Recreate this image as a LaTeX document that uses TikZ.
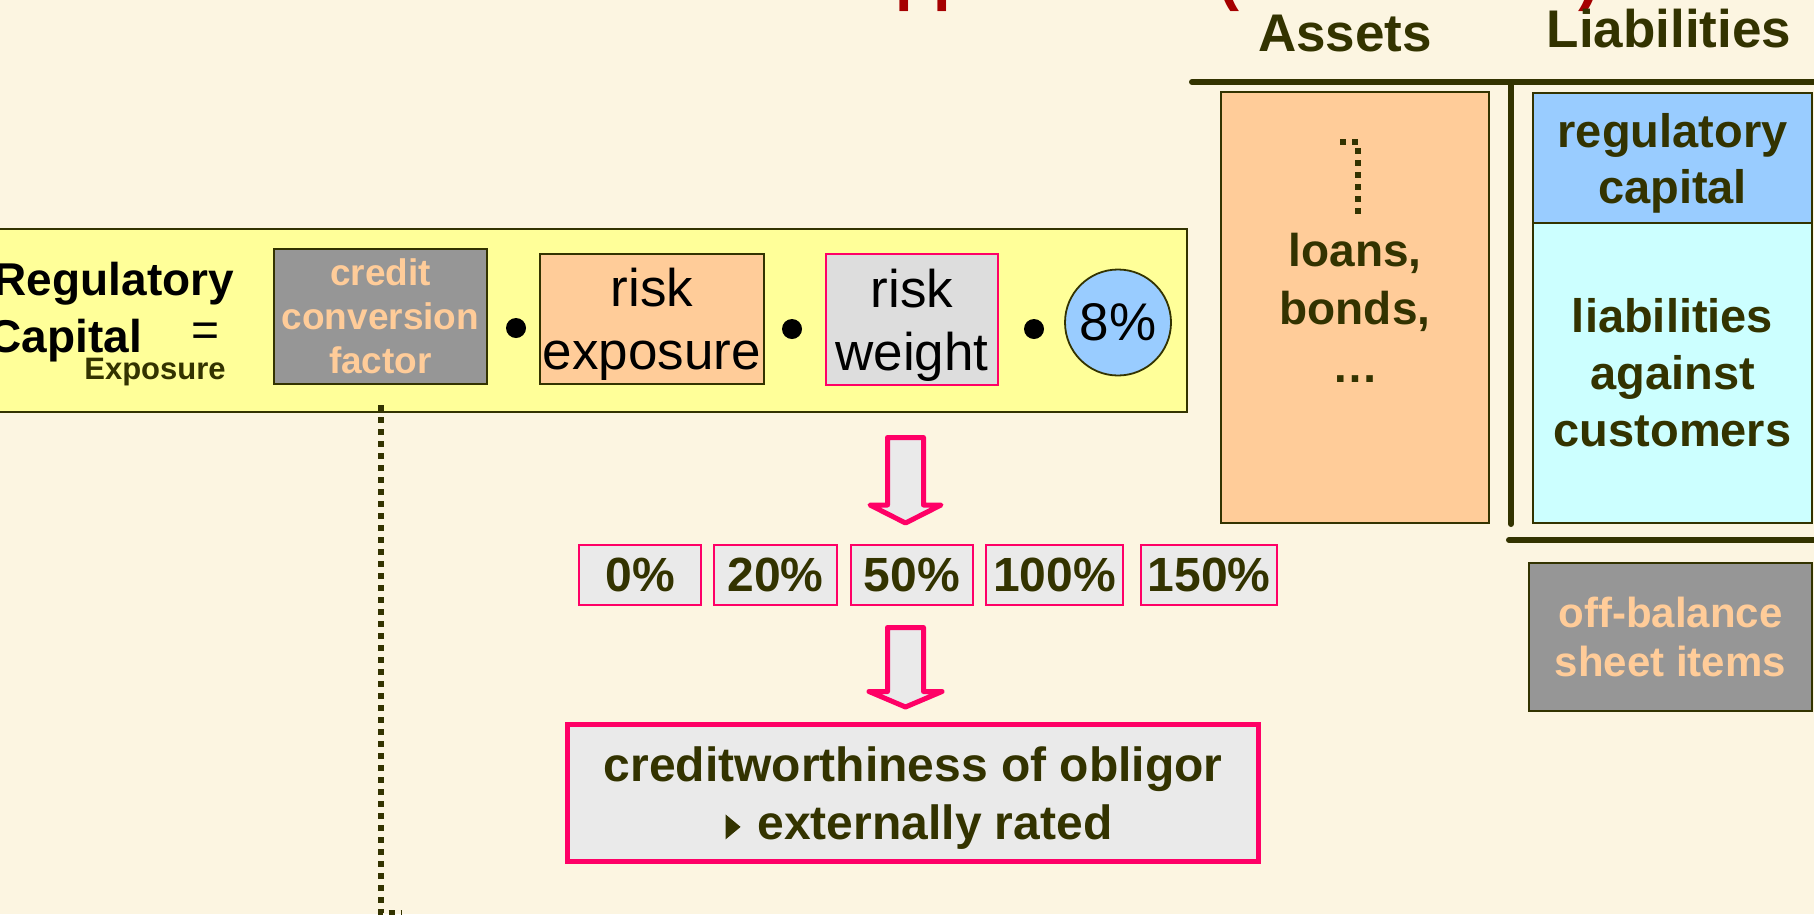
\documentclass[tikz,border=0pt]{standalone}
\usepackage{fontspec}
\setmainfont{Liberation Sans}
\usetikzlibrary{calc}

\definecolor{paper}{HTML}{FCF5E1}
\definecolor{olive}{HTML}{333300}
\definecolor{bandyellow}{HTML}{FFFF99}
\definecolor{peach}{HTML}{FFCC99}
\definecolor{midgray}{HTML}{969696}
\definecolor{lightgray}{HTML}{DDDDDD}
\definecolor{palegray}{HTML}{EAEAEA}
\definecolor{hotpink}{HTML}{FF0066}
\definecolor{skyblue}{HTML}{99CCFF}
\definecolor{palecyan}{HTML}{CCFFFF}
\definecolor{titlered}{HTML}{A50000}

\newcommand\fsz[2]{\fontsize{#1}{#2}\selectfont}
% small right-pointing bullet triangle
\newcommand\tribullet{\tikz[baseline=0pt,x=1pt,y=1pt]\fill[olive](0,0)--(15,12.5)--(0,25)--cycle;}

\begin{document}
\begin{tikzpicture}[x=1pt,y=-1pt,
  every node/.style={inner sep=0pt, outer sep=0pt},
  olivebox/.style={draw=olive, line width=1.8pt, align=center},
  pinkbox/.style={draw=hotpink, line width=2.5pt, align=center},
  factorfont/.style={font=\fsz{53}{63}, text=black},
  sheetfont/.style={font=\bfseries\fsz{47}{56}, text=olive},
  pctbox/.style={pinkbox, fill=palegray, minimum height=60pt, font=\bfseries\fsz{48}{56}, text=olive},
  multdot/.style={circle, fill=black, minimum size=20pt},
  dotline/.style={draw=olive, line width=6pt, dash pattern=on 6pt off 6pt},
  blockarrow/.style={draw=hotpink, fill=palegray, line width=5pt, line join=round},
  rule/.style={draw=olive, line width=6pt, line cap=round},
  titlefrag/.style={font=\bfseries\fsz{63}{70}, text=titlered}
]
\useasboundingbox[fill=paper] (0,0) rectangle (1814,914);

% title line above (only its descenders fall inside the frame)
\node[titlefrag, anchor=base west] (ttlA) at (895,-2) {pp};
\node[titlefrag, anchor=base west] (ttlB) at (1218,-2) {(};
\node[titlefrag, anchor=base west] (ttlC) at (1578,-2) {)};

% formula band
\node[draw=olive, line width=2pt, fill=bandyellow, minimum width=1207pt, minimum height=183pt] (band) at (583.5,320.5) {};

\node[anchor=base east, font=\bfseries\fsz{46}{55}, text=black] (rcA) at (234,295) {Regulatory};
\node[anchor=base east, font=\bfseries\fsz{46}{55}, text=black] (rcB) at (142,352) {Capital};
\node[anchor=base, font=\bfseries\fsz{31}{36}, text=olive] (rcSub) at (155,379) {Exposure};
\node[anchor=base, font=\fsz{48}{56}, text=black] (eq) at (206,346) {=};

\node[olivebox, fill=midgray, minimum width=213pt, minimum height=135pt,
      text=peach, font=\bfseries\fsz{37}{44}, text depth=-3pt] (ccf) at (380.5,316.5) {credit\\conversion\\factor};
\node[multdot] (m1) at (516,328) {};
\node[olivebox, fill=peach, minimum width=224pt, minimum height=130pt,
      factorfont, text depth=-4pt] (rexp) at (652,319) {risk\\exposure};
\node[multdot] (m2) at (792,329) {};
\node[pinkbox, line width=2pt, fill=lightgray, minimum width=172pt, minimum height=131pt,
      factorfont, text depth=-4pt] (rw) at (912,319.5) {risk\\weight};
\node[multdot] (m3) at (1034,329) {};
\node[circle, draw=olive, line width=1.8pt, fill=skyblue, minimum size=106pt,
      factorfont] (eight) at (1118,322.5) {8\%};

% risk weight buckets
\node[pctbox, minimum width=122pt] (p0) at (640,575) {0\%};
\node[pctbox, minimum width=123pt] (p20) at (775.5,575) {20\%};
\node[pctbox, minimum width=122pt] (p50) at (912,575) {50\%};
\node[pctbox, minimum width=137pt] (p100) at (1054.5,575) {100\%};
\node[pctbox, minimum width=136pt] (p150) at (1209,575) {150\%};

\node[pinkbox, line width=5pt, fill=palegray, minimum width=691pt, minimum height=137pt,
      font=\bfseries\fsz{48}{58}, text=olive, text depth=0pt] (cred) at (913,793)
      {creditworthiness of obligor\\\hspace{12pt}\tribullet\hspace{17pt}externally rated};

% block arrows
\draw[blockarrow] (887.5,437.5) -- (923.5,437.5) -- (923.5,505) -- (941,505)
   -- (905.5,523) -- (870,505) -- (887.5,505) -- cycle;
\draw[blockarrow] (887.5,627.5) -- (923.5,627.5) -- (923.5,691.5) -- (942,691.5)
   -- (905.5,707) -- (869,691.5) -- (887.5,691.5) -- cycle;

% balance sheet
\node[anchor=base, font=\bfseries\fsz{53}{60}, text=olive] (hAssets) at (1345,51) {Assets};
\node[anchor=base, font=\bfseries\fsz{53}{60}, text=olive] (hLiab) at (1669,47) {Liabilities};

\coordinate (tL) at (1192,82);
\coordinate (tR) at (1830,82);
\coordinate (vT) at (1511,82);
\coordinate (vB) at (1511,524);
\coordinate (bL) at (1509,540);
\coordinate (bR) at (1830,540);
\draw[rule] (tL) -- (tR);
\draw[rule] (vT) -- (vB);
\draw[rule] (bL) -- (bR);

\node[olivebox, fill=peach, minimum width=268pt, minimum height=431pt,
      font=\bfseries\fsz{46}{58}, text=olive] (assets) at (1355,307.5) {loans,\\bonds,\\…};
\node[olivebox, fill=skyblue, minimum width=279pt, minimum height=130pt,
      sheetfont, text depth=0pt] (regcap) at (1672.5,158) {regulatory\\capital};
\node[olivebox, fill=palecyan, minimum width=279pt, minimum height=300pt,
      font=\bfseries\fsz{47}{57}, text=olive] (liab) at (1672.5,373) {liabilities\\against\\customers};
\node[olivebox, fill=midgray, minimum width=283pt, minimum height=148pt,
      font=\bfseries\fsz{42}{49}, text=peach] (offbal) at (1670.5,637) {off-balance\\sheet items};

% dotted guides
\coordinate (ccfTop) at ($(ccf.south)+(0,21)$);
\coordinate (ccfEnd) at (402,913);
\draw[dotline] (ccfTop) |- (ccfEnd);

\coordinate (loanA) at (1340,142);
\coordinate (loanB) at (1358,215);
\draw[dotline] (loanA) -| (loanB);
\end{tikzpicture}
\end{document}
